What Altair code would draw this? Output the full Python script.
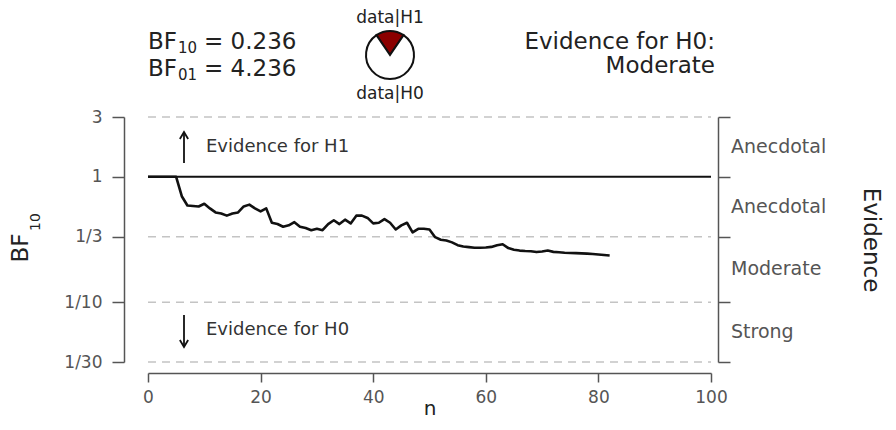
import math
import altair as alt
import pandas as pd

# ---------------- data ----------------
n_values = list(range(0, 83))
bf_values = [1, 1, 1, 1, 1, 1,
             0.70, 0.59, 0.585, 0.58, 0.61, 0.56, 0.52, 0.51, 0.49, 0.51,
             0.52, 0.58, 0.60, 0.56, 0.53, 0.56, 0.43, 0.42, 0.40, 0.41,
             0.435, 0.40, 0.39, 0.375, 0.385, 0.375, 0.42, 0.45, 0.42, 0.455,
             0.425, 0.49, 0.49, 0.47, 0.425, 0.43, 0.46, 0.43, 0.38, 0.41,
             0.43, 0.36, 0.385, 0.385, 0.38, 0.33, 0.315, 0.31, 0.30, 0.285,
             0.278, 0.275, 0.272, 0.272, 0.273, 0.276, 0.285, 0.29, 0.27, 0.262,
             0.258, 0.256, 0.255, 0.251, 0.254, 0.258, 0.252, 0.25, 0.248, 0.247,
             0.246, 0.245, 0.244, 0.242, 0.240, 0.238, 0.236]

y_tick_values = [3, 1, 1 / 3, 1 / 10, 1 / 30]
y_tick_labels = ["3", "1", "1/3", "1/10", "1/30"]
x_tick_values = [0, 20, 40, 60, 80, 100]
evidence_labels = ["Anecdotal", "Anecdotal", "Moderate", "Strong"]
pie_labels = ["data|H1", "data|H0"]
bf10_value = "0.236"
bf01_value = "4.236"
bf10_num = 0.236
evidence_title = ["Evidence for H0:", "Moderate"]
arrow_texts = ["Evidence for H1", "Evidence for H0"]

# ---------------- layout / style ----------------
W, H = 563, 245
FONT = "DejaVu Sans"
AXC = "#555555"
TXT = "#222222"

xscale = alt.Scale(domain=[0, 100], nice=False, zero=False)
yscale = alt.Scale(type="log", domain=[1 / 30, 3], nice=False)

# label expression for the left axis
expr = "'" + y_tick_labels[-1] + "'"
for i in range(len(y_tick_values) - 2, -1, -1):
    thr = math.sqrt(y_tick_values[i] * y_tick_values[i + 1])
    expr = f"datum.value > {thr} ? '{y_tick_labels[i]}' : ({expr})"

df = pd.DataFrame({"n": n_values, "bf": bf_values})

line = alt.Chart(df).mark_line(color="#111111", strokeWidth=2.6, strokeJoin="round").encode(
    x=alt.X("n:Q", scale=xscale, axis=alt.Axis(
        values=x_tick_values, offset=11, tickSize=9, labelPadding=7, grid=False,
        labelFlush=False,
        title="n", titleFontSize=20, titleFont=FONT, titleFontWeight="normal",
        titleColor=TXT, titlePadding=9, titleBaseline="alphabetic",
        labelFont=FONT, labelFontSize=17, labelColor=AXC,
        domainColor=AXC, tickColor=AXC, domainWidth=1.5, tickWidth=1.5)),
    y=alt.Y("bf:Q", scale=yscale, axis=alt.Axis(
        orient="left", values=y_tick_values, labelExpr=expr, offset=24,
        tickSize=12, labelPadding=10, grid=False, title=None,
        labelFont=FONT, labelFontSize=17, labelColor=AXC,
        domainColor=AXC, tickColor=AXC, domainWidth=1.5, tickWidth=1.5)),
)

grid_vals = [v for v in y_tick_values if v != 1]
grid_df = pd.DataFrame({"bf": grid_vals, "x0": [0] * len(grid_vals), "x1": [100] * len(grid_vals)})
grid = alt.Chart(grid_df).mark_rule(color="#c4c4c4", strokeWidth=1.5, strokeDash=[8, 6]).encode(
    x=alt.X("x0:Q", scale=xscale, axis=None),
    x2="x1:Q",
    y=alt.Y("bf:Q", scale=yscale, axis=alt.Axis(
        orient="right", values=y_tick_values, labels=False, offset=7,
        tickSize=12, grid=False, title=None,
        domainColor=AXC, tickColor=AXC, domainWidth=1.5, tickWidth=1.5)),
)

one_df = pd.DataFrame({"bf": [1], "x0": [0], "x1": [100]})
one = alt.Chart(one_df).mark_rule(color="#111111", strokeWidth=2).encode(
    x=alt.X("x0:Q", scale=xscale, axis=None), x2="x1:Q",
    y=alt.Y("bf:Q", scale=yscale, axis=None),
)

mids = [math.sqrt(y_tick_values[i] * y_tick_values[i + 1]) for i in range(len(y_tick_values) - 1)]
ev_df = pd.DataFrame({"bf": mids, "label": evidence_labels})
ev = alt.Chart(ev_df).mark_text(align="left", baseline="middle", fontSize=19, font=FONT, color=AXC).encode(
    x=alt.value(W + 20), y=alt.Y("bf:Q", scale=yscale, axis=None), text="label:N")

# pie
p_h1 = bf10_num / (1 + bf10_num)
start = -p_h1 * math.pi
pie_df = pd.DataFrame({"hyp": pie_labels, "p": [p_h1, 1 - p_h1], "o": [0, 1]})
pie = alt.Chart(pie_df).mark_arc(radius=24, stroke="#111111", strokeWidth=2).encode(
    theta=alt.Theta("p:Q", stack=True,
                    scale=alt.Scale(domain=[0, 1], range=[start, start + 2 * math.pi])),
    order=alt.Order("o:Q"),
    color=alt.Color("hyp:N", scale=alt.Scale(domain=pie_labels, range=["#8b0000", "#ffffff"]), legend=None),
    x=alt.value(242), y=alt.value(-62),
)


def label(txt, x, y, size, align="left", color=TXT, angle=0):
    return alt.Chart(alt.Data(values=[{"t": txt}])).mark_text(
        align=align, baseline="middle", fontSize=size, font=FONT, color=color, angle=angle
    ).encode(text="t:N", x=alt.value(x), y=alt.value(y))


texts = [
    label("BF", 0, -75, 23), label("10", 30, -69, 15), label("= " + bf10_value, 56, -75, 23),
    label("BF", 0, -48, 23), label("01", 30, -42, 15), label("= " + bf01_value, 56, -48, 23),
    label(pie_labels[0], 242, -99, 17, align="center"),
    label(pie_labels[1], 242, -23, 17, align="center"),
    label(evidence_title[0], 567, -75, 23, align="right"),
    label(evidence_title[1], 567, -51, 23, align="right"),
    label(arrow_texts[0], 58, 30, 18, color="#333333"),
    label(arrow_texts[1], 58, 213, 18, color="#333333"),
    label("BF", -127, 131, 23, align="center", angle=270),
    label("10", -112, 105, 14, align="center", angle=270),
    label("Evidence", 723, 123, 23, align="center", angle=90),
]

# arrows
def arrow(y_top, y_bot, up=True):
    shaft = alt.Chart(alt.Data(values=[{"a": 1}])).mark_rule(color="#111111", strokeWidth=1.8).encode(
        x=alt.value(36), y=alt.value(y_top), y2=alt.value(y_bot))
    shape = "M -0.6 0.5 L 0 -0.5 L 0.6 0.5" if up else "M -0.6 -0.5 L 0 0.5 L 0.6 -0.5"
    hy = y_top + 3.5 if up else y_bot - 3.5
    head = alt.Chart(alt.Data(values=[{"a": 1}])).mark_point(
        shape=shape, filled=False, size=190, color="#111111", strokeWidth=1.8, opacity=1).encode(
        x=alt.value(36), y=alt.value(hy))
    return [shaft, head]


layers = [grid, one, line, ev, pie] + texts + arrow(15, 46, True) + arrow(198, 230, False)

chart = alt.layer(*layers).resolve_axis(x="independent", y="independent").properties(
    width=W, height=H,
    autosize=alt.AutoSizeParams(type="none"),
    padding={"left": 140, "top": 109, "right": 177, "bottom": 60},
).configure_view(strokeWidth=0)

chart.save("out.html", embed_options={"renderer": "svg", "actions": False})
